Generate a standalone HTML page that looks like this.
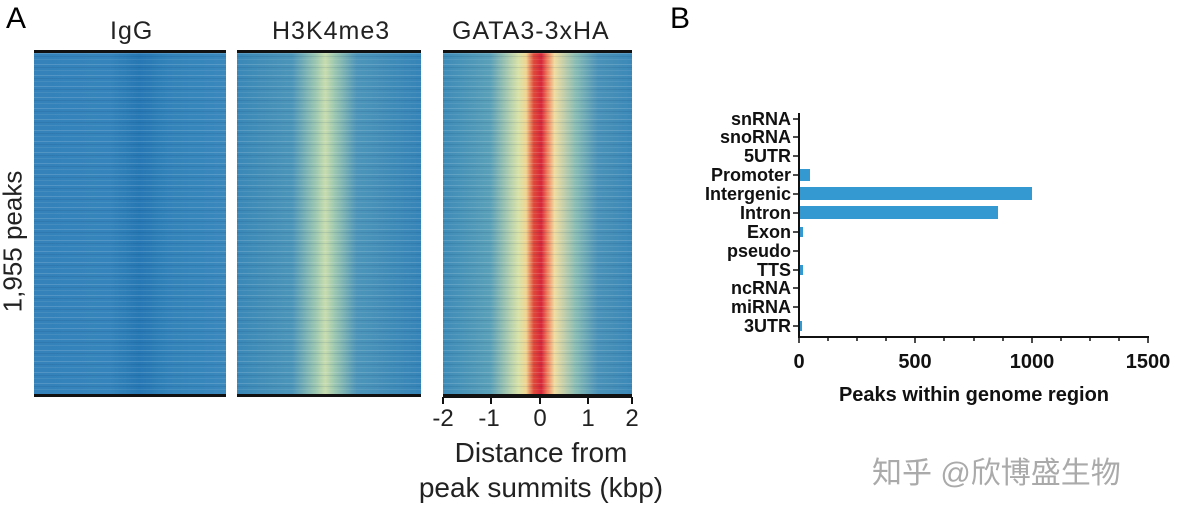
<!DOCTYPE html>
<html><head><meta charset="utf-8"><style>
body{margin:0;width:1192px;height:519px;background:#fff;position:relative;overflow:hidden;font-family:"Liberation Sans",sans-serif}
.t{position:absolute;white-space:nowrap}
.hm{position:absolute;top:50px;height:347px;border-top:3px solid #111;border-bottom:3px solid #111;box-sizing:border-box}
.st{position:absolute;inset:0;background:repeating-linear-gradient(180deg,rgba(255,255,255,0.15) 0 1px,rgba(0,0,0,0) 1px 3px,rgba(0,40,90,0.1) 3px 4px,rgba(0,0,0,0) 4px 6px,rgba(255,255,255,0.08) 6px 7px,rgba(0,0,0,0) 7px 11px)}
</style></head><body>
<div class="t" style="left:6px;top:2px;font-size:30px">A</div>
<div class="t" style="left:670px;top:2px;font-size:30px">B</div>
<div class="t" style="left:110px;top:17px;font-size:25px;letter-spacing:1px;color:#222">IgG</div>
<div class="t" style="left:272px;top:17px;font-size:25px;letter-spacing:1px;color:#222">H3K4me3</div>
<div class="t" style="left:452px;top:17px;font-size:25px;letter-spacing:1px;color:#222">GATA3-3xHA</div>
<div class="t" style="left:-58px;top:226px;font-size:26px;transform:rotate(-90deg);color:#222">1,955 peaks</div>
<div class="hm" style="left:34px;width:192px;background:linear-gradient(90deg,#3482b9,#3584bb 40%,#2677b3 55%,#3383ba 70%,#3a88bc)"><div class="st"></div></div>
<div class="hm" style="left:237px;width:184px;background:linear-gradient(90deg,#3a88b8,#4c95b9 30%,#9cc7b0 43%,#c8dcae 48%,#9cc7b0 53%,#4d95b9 65%,#3584b8)"><div class="st"></div></div>
<div class="hm" style="left:443px;width:189px;background:linear-gradient(90deg,#3d8bb8,#5aa0b8 25%,#d8e2a8 40%,#f0d490 44%,#e04a3a 48%,#d6263a 52%,#ee7a5a 55%,#f0dca0 59%,#8abdb4 70%,#4a92b8 82%,#3b88b8)"><div class="st"></div></div>
<svg style="position:absolute;left:0;top:0" width="1192" height="519">
<g stroke="#111" stroke-width="2">
<line x1="443" y1="397" x2="632" y2="397"/>
<line x1="443" y1="397" x2="443" y2="404"/><line x1="491" y1="397" x2="491" y2="404"/><line x1="540" y1="397" x2="540" y2="404"/><line x1="588" y1="397" x2="588" y2="404"/><line x1="632" y1="397" x2="632" y2="404"/>
<line x1="799" y1="113" x2="799" y2="338"/><line x1="798" y1="337" x2="1149" y2="337"/>
</g>
<g stroke="#111" stroke-width="1.5">
<line x1="799" y1="337" x2="799" y2="343"/><line x1="915" y1="337" x2="915" y2="343"/><line x1="1032" y1="337" x2="1032" y2="343"/><line x1="1148" y1="337" x2="1148" y2="343"/>
<line x1="828" y1="337" x2="828" y2="341"/><line x1="857" y1="337" x2="857" y2="341"/><line x1="886" y1="337" x2="886" y2="341"/><line x1="944" y1="337" x2="944" y2="341"/><line x1="974" y1="337" x2="974" y2="341"/><line x1="1003" y1="337" x2="1003" y2="341"/><line x1="1061" y1="337" x2="1061" y2="341"/><line x1="1090" y1="337" x2="1090" y2="341"/><line x1="1119" y1="337" x2="1119" y2="341"/>
<line x1="793" y1="119" x2="799" y2="119"/><line x1="793" y1="137" x2="799" y2="137"/><line x1="793" y1="156" x2="799" y2="156"/><line x1="793" y1="175" x2="799" y2="175"/><line x1="793" y1="194" x2="799" y2="194"/><line x1="793" y1="213" x2="799" y2="213"/><line x1="793" y1="232" x2="799" y2="232"/><line x1="793" y1="251" x2="799" y2="251"/><line x1="793" y1="270" x2="799" y2="270"/><line x1="793" y1="288" x2="799" y2="288"/><line x1="793" y1="307" x2="799" y2="307"/><line x1="793" y1="326" x2="799" y2="326"/>
</g>
<g fill="#3399d0">
<rect x="800" y="169" width="10" height="12"/>
<rect x="800" y="187" width="232" height="13"/>
<rect x="800" y="206" width="198" height="13"/>
<rect x="800" y="227" width="3" height="10"/>
<rect x="800" y="265" width="3" height="10"/>
<rect x="800" y="321" width="2" height="10"/>
</g>
<g font-family="Liberation Sans,sans-serif" font-size="24" fill="#222" text-anchor="middle">
<text x="443" y="426">-2</text><text x="489" y="426">-1</text><text x="540" y="426">0</text><text x="588" y="426">1</text><text x="632" y="426">2</text>
<text x="541" y="462" font-size="28">Distance from</text>
<text x="541" y="497" font-size="28">peak summits (kbp)</text>
</g>
<g font-family="Liberation Sans,sans-serif" font-size="18" font-weight="bold" fill="#111" text-anchor="end">
<text x="791" y="125">snRNA</text><text x="791" y="143">snoRNA</text><text x="791" y="162">5UTR</text><text x="791" y="181">Promoter</text><text x="791" y="200">Intergenic</text><text x="791" y="219">Intron</text><text x="791" y="238">Exon</text><text x="791" y="257">pseudo</text><text x="791" y="276">TTS</text><text x="791" y="294">ncRNA</text><text x="791" y="313">miRNA</text><text x="791" y="332">3UTR</text>
</g>
<g font-family="Liberation Sans,sans-serif" font-size="20" font-weight="bold" fill="#111" text-anchor="middle">
<text x="799" y="368">0</text><text x="915" y="368">500</text><text x="1032" y="368">1000</text><text x="1148" y="368">1500</text>
<text x="974" y="401">Peaks within genome region</text>
</g>
<text x="872" y="483" font-family="Liberation Sans,Noto Sans CJK SC,sans-serif" font-size="30" fill="#aaa">知乎 @欣博盛生物</text>
</svg>
</body></html>
